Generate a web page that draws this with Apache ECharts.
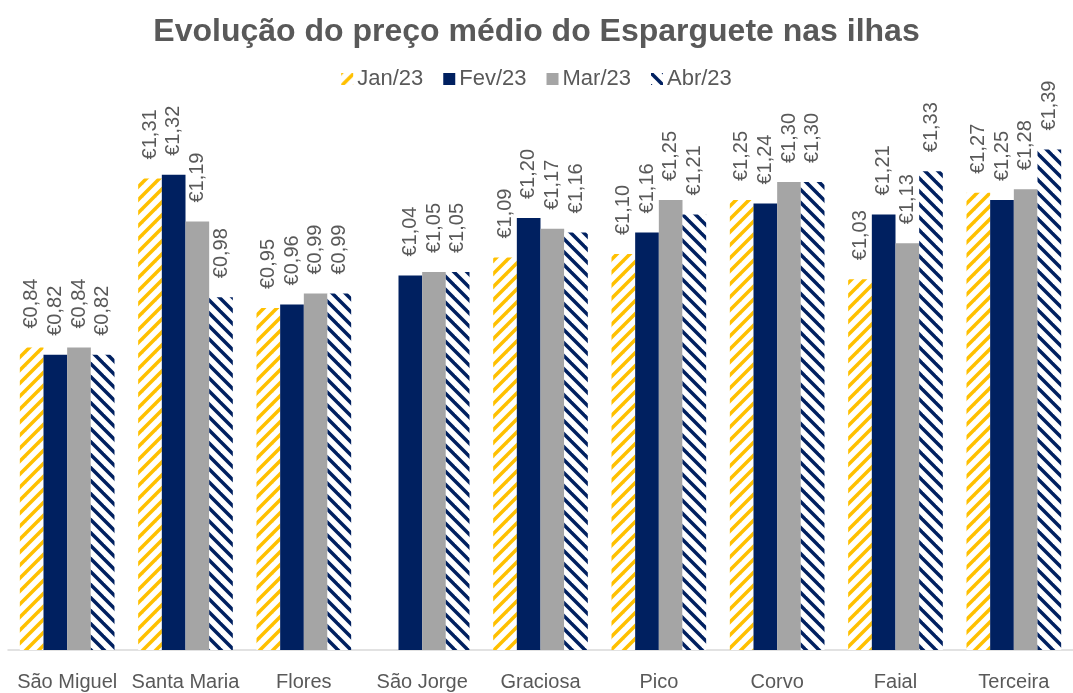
<!DOCTYPE html>
<html>
<head>
<meta charset="utf-8">
<script src="https://cdn.jsdelivr.net/npm/echarts@6/dist/echarts.min.js"></script>
<style>
  html, body { margin: 0; padding: 0; background: #fff; }
  #chart { width: 1073px; height: 693px; }
</style>
</head>
<body>
<div id="chart"></div>
<script>
const ilhas = ["São Miguel", "Santa Maria", "Flores", "São Jorge", "Graciosa", "Pico", "Corvo", "Faial", "Terceira"];
const jan23 = [0.84, 1.31, 0.95, null, 1.09, 1.10, 1.25, 1.03, 1.27];
const fev23 = [0.82, 1.32, 0.96, 1.04, 1.20, 1.16, 1.24, 1.21, 1.25];
const mar23 = [0.84, 1.19, 0.99, 1.05, 1.17, 1.25, 1.30, 1.13, 1.28];
const abr23 = [0.82, 0.98, 0.99, 1.05, 1.16, 1.21, 1.30, 1.33, 1.39];

const FONT = "Liberation Sans, Arial, sans-serif";
const textColor = "#595959";

// striped fill, dir 1 = "/" , dir -1 = "\"
function stripes(color, dir, lw) {
  const s = 13;
  const c = document.createElement("canvas");
  c.width = s;
  c.height = s;
  const ctx = c.getContext("2d");
  ctx.fillStyle = "#fff";
  ctx.fillRect(0, 0, s, s);
  ctx.strokeStyle = color;
  ctx.lineWidth = lw;
  ctx.lineCap = "square";
  for (let k = -1; k <= 1; k++) {
    ctx.beginPath();
    if (dir > 0) {
      ctx.moveTo(k * s - 2, s + 2);
      ctx.lineTo(k * s + s + 2, -2);
    } else {
      ctx.moveTo(k * s - 2, -2);
      ctx.lineTo(k * s + s + 2, s + 2);
    }
    ctx.stroke();
  }
  return { image: c, repeat: "repeat" };
}

const euro = (p) => "€" + p.value.toFixed(2).replace(".", ",");

function serie(name, data, color) {
  return {
    name,
    type: "bar",
    data,
    barGap: "0%",
    barCategoryGap: "20%",
    itemStyle: { color },
    label: {
      show: true,
      position: "top",
      rotate: 90,
      align: "left",
      verticalAlign: "middle",
      distance: 19,
      color: textColor,
      fontFamily: FONT,
      fontSize: 20,
      formatter: euro,
    },
  };
}

const chart = echarts.init(document.getElementById("chart"));
chart.setOption({
  animation: false,
  title: {
    text: "Evolução do preço médio do Esparguete nas ilhas",
    left: "center",
    top: 11,
    textStyle: { color: textColor, fontFamily: FONT, fontSize: 32, fontWeight: "bold" },
  },
  legend: {
    top: 63,
    left: "center",
    itemWidth: 12,
    itemHeight: 12,
    itemGap: 20,
    icon: "rect",
    textStyle: { color: textColor, fontFamily: FONT, fontSize: 22, padding: [0, 0, 0, -1] },
    data: ["Jan/23", "Fev/23", "Mar/23", "Abr/23"],
  },
  grid: { left: 8, right: -14, top: 74, bottom: 43, containLabel: false },
  xAxis: {
    type: "category",
    data: ilhas,
    axisLine: { lineStyle: { color: "#D9D9D9", width: 1.5 } },
    axisTick: { show: false },
    axisLabel: { color: textColor, fontFamily: FONT, fontSize: 20, margin: 22, interval: 0 },
  },
  yAxis: {
    type: "value",
    min: 0,
    max: 1.6,
    show: false,
    splitLine: { show: false },
  },
  series: [
    serie("Jan/23", jan23, stripes("#FFC000", 1, 3.5)),
    serie("Fev/23", fev23, "#002060"),
    serie("Mar/23", mar23, "#A5A5A5"),
    serie("Abr/23", abr23, stripes("#002060", -1, 3.5)),
  ],
});
</script>
</body>
</html>
